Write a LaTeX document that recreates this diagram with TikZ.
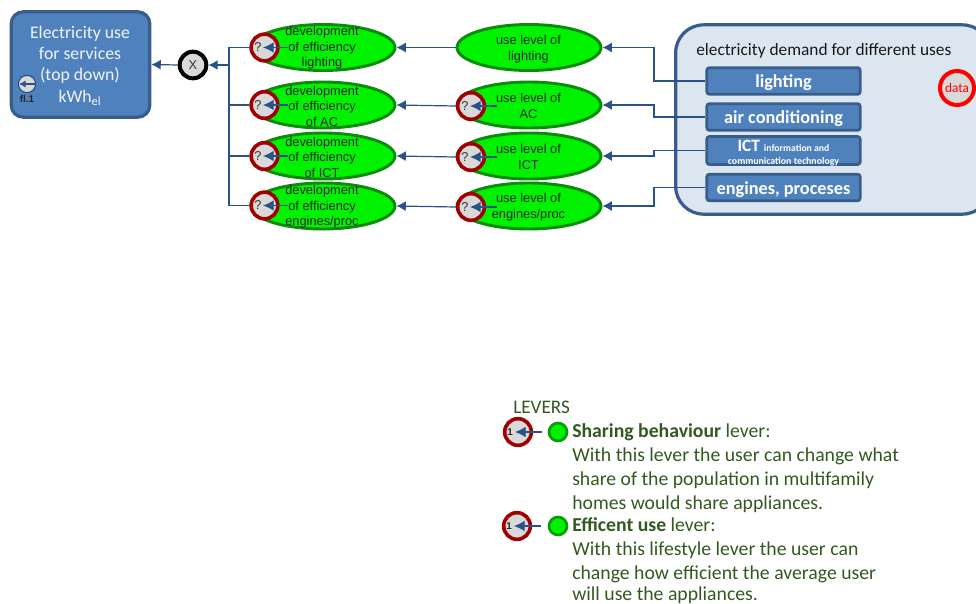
\documentclass[tikz,border=0pt]{standalone}
\usepackage{fontspec}
\setmainfont{Carlito}
\newfontfamily\arialw[WordSpace=1.9]{Liberation Sans}
\newfontfamily\arialn{Liberation Sans}
\usetikzlibrary{shapes.geometric,arrows.meta}
\definecolor{boxblue}{HTML}{4F81BD}
\definecolor{boxedge}{HTML}{385D8A}
\definecolor{linkblue}{HTML}{2A5288}
\definecolor{groupfill}{HTML}{DCE6F1}
\definecolor{leafgreen}{HTML}{00F200}
\definecolor{leafedge}{HTML}{0C8C0C}
\definecolor{darkred}{HTML}{A00000}
\definecolor{qgrey}{HTML}{D9D9D9}
\definecolor{legendgreen}{HTML}{33591F}
\tikzset{
  conn/.style={draw=linkblue,line width=0.9pt,-{Latex[length=7pt,width=7.5pt]}},
  innerconn/.style={draw=linkblue,line width=0.9pt,-{Latex[length=8pt,width=8pt]}},
  plainconn/.style={draw=linkblue,line width=0.9pt},
  leaf/.style={ellipse,draw=leafedge,fill=leafgreen,line width=2.2pt,minimum width=108pt,minimum height=34.5pt,inner sep=0pt},
  leaftext/.style={inner sep=0pt,align=center,font=\fontsize{9.6}{11.6}\arialw,text=black!85},
  qmark/.style={circle,draw=darkred,fill=qgrey,line width=2.7pt,minimum size=20pt,inner sep=0pt},
  qtext/.style={font=\fontsize{9.6}{11}\arialn,text=black!80,inner sep=0pt},
  usebox/.style={rectangle,rounded corners=2pt,draw=boxedge,fill=boxblue,line width=2.1pt,minimum width=115pt,minimum height=20pt,inner sep=0pt},
  usetext/.style={inner sep=0pt,text=white,font=\fontsize{13.7}{16}\selectfont\bfseries},
  legtext/.style={anchor=base west,inner sep=0pt,text=legendgreen,font=\fontsize{14.8}{18}\selectfont},
  legdot/.style={circle,draw=leafedge!85!leafgreen,fill=leafgreen,line width=2pt,minimum size=13.5pt,inner sep=0pt},
}
\begin{document}
\begin{tikzpicture}[x=0.75pt,y=-0.75pt]
\clip (0,0) rectangle (976,604);
\useasboundingbox (0,0) rectangle (976,604);

% top-left result box
\node[rectangle,rounded corners=9pt,draw=boxedge,fill=boxblue,line width=2.4pt,minimum width=104pt,minimum height=79pt,inner sep=0pt] (res) at (80.5,64.5) {};
\node[inner sep=0pt,text=white!92!boxblue,font=\fontsize{13.3}{16}\selectfont,align=center] (restxt) at (80,65.5) {Electricity use\\for services\\(top down)\\kWh\textsubscript{el}};
\node[circle,draw=linkblue,fill=qgrey,line width=0.9pt,minimum size=13pt,inner sep=0pt] (fl) at (27,84) {};
\coordinate (flr) at (35,84);
\coordinate (fll) at (19,84);
\draw[draw=linkblue,line width=0.95pt,-{Latex[length=5pt,width=5.5pt]}] (flr) -- (fll);
\node[inner sep=0pt,font=\fontsize{7.4}{8}\arialn\bfseries,text=black!85] (fltxt) at (27,99) {fl.1};

% group
\node[rectangle,rounded corners=21pt,draw=boxedge,fill=groupfill,line width=2.4pt,minimum width=236pt,minimum height=142pt,inner sep=0pt] (grp) at (833,119.5) {};
\node[anchor=base west,inner sep=0pt,font=\fontsize{13}{15}\selectfont,text=black!90] (grptxt) at (696,55.5) {electricity demand for different uses};
\node[usebox] (u1) at (783.5,81) {};
\node[usetext] (ut1) at (783.5,83) {lighting};
\node[usebox] (u2) at (783.5,117) {};
\node[usetext] (ut2) at (783.5,119) {air conditioning};
\node[usebox,minimum height=21pt] (u3) at (783.5,150.5) {};
\node[inner sep=0pt,text=white,font=\bfseries,anchor=center] (u3a) at (783.5,146) {\fontsize{13}{15}\selectfont ICT \fontsize{7.3}{9}\selectfont information and};
\node[inner sep=0pt,text=white,anchor=center] (u3b) at (783.5,162) {\fontsize{7.4}{9}\selectfont\bfseries communication technology};
\node[usebox] (u4) at (783.5,187.5) {};
\node[usetext] (ut4) at (783.5,189.5) {engines, proceses};
\node[circle,draw=red,fill=qgrey,line width=3pt,minimum size=25.5pt,inner sep=0pt,text=red,font=\fontsize{10}{12}\selectfont] (data) at (957,88) {data};

% left ellipses
\node[leaf] (a1) at (323,47.5) {};
\node[leaf] (a2) at (323,105) {};
\node[leaf] (a3) at (323,156) {};
\node[leaf] (a4) at (323,206) {};

% right ellipses
\node[leaf] (b1) at (529,47.5) {};
\node[leaf] (b2) at (529,105) {};
\node[leaf] (b3) at (529,156) {};
\node[leaf] (b4) at (529,206) {};

% X
\node[circle,draw=black,fill=qgrey,line width=3pt,minimum size=20pt,inner sep=0pt,font=\fontsize{9.6}{11}\arialn,text=black!80] (x) at (193,65) {X};
\coordinate (trunk) at (229,65);

% question circles, left column
\foreach \i/\y in {1/47.5,2/105,3/156,4/205.5}{
  \node[qmark] (qa\i) at (264.5,\y) {};
  \node[qtext] (qat\i) at (258,\y) {?};
  \coordinate (qas\i) at (288,\y);
  \coordinate (qae\i) at (263,\y);
  \draw[innerconn] (qas\i) -- (qae\i);
}
% question circles, right column
\foreach \i/\y in {2/106,3/157,4/207}{
  \node[qmark] (qb\i) at (471,\y) {};
  \node[qtext] (qbt\i) at (465,\y) {?};
  \coordinate (qbs\i) at (497,\y);
  \coordinate (qbe\i) at (470,\y);
  \draw[innerconn] (qbs\i) -- (qbe\i);
}

% ellipse texts
\node[leaftext] (at1) at (322,48) {development\\of efficiency\\lighting};
\node[leaftext] (at2) at (322,106) {development\\of efficiency\\of AC};
\node[leaftext] (at3) at (322,157) {development\\of efficiency\\of ICT};
\node[leaftext] (at4) at (322,207) {development\\of efficiency\\engines/proc};
\node[leaftext] (bt1) at (528.5,49) {use level of\\lighting};
\node[leaftext] (bt2) at (528.5,106) {use level of\\AC};
\node[leaftext] (bt3) at (528.5,157) {use level of\\ICT};
\node[leaftext] (bt4) at (528.5,207) {use level of\\engines/proc};

% connectors
\draw[conn] (x.west) -- (res.east);
\draw[plainconn] (qa1.west) -| (trunk);
\draw[plainconn] (qa2.west) -| (trunk);
\draw[plainconn] (qa3.west) -| (trunk);
\draw[plainconn] (qa4.west) -| (trunk);
\draw[conn,line width=1.4pt] (trunk) -- (x.east);

\draw[conn] (b1.west) -- (a1.east);
\draw[conn] (qb2.west) -- (a2.east);
\draw[conn] (qb3.west) -- (a3.east);
\draw[conn] (qb4.west) -- (a4.east);

\draw[conn] (u1.west) -| (654,47.5) -- (b1.east);
\draw[conn] (u2.west) -| (654,105) -- (b2.east);
\draw[conn] (u3.west) -| (654,156) -- (b3.east);
\draw[conn] (u4.west) -| (654,206) -- (b4.east);

% legend
\node[anchor=base west,inner sep=0pt,text=legendgreen,font=\fontsize{14.4}{17}\selectfont] (levers) at (513,413) {LEVERS};
\foreach \i/\xx/\y in {1/518/432,2/517/526}{
  \node[qmark] (lq\i) at (\xx,\y) {};
  \node[inner sep=0pt,font=\fontsize{7.4}{9}\arialn\bfseries,text=black!85] (lqt\i) at (\xx-8,\y) {1};
  \node[legdot] (ld\i) at (558,\y) {};
  \coordinate (ls\i) at (\xx+24,\y);
  \coordinate (le\i) at (\xx-3,\y);
  \draw[innerconn] (ls\i) -- (le\i);
}
\node[legtext] (t1) at (572,437) {\textbf{Sharing behaviour} lever:};
\node[legtext] (t2) at (572,461) {With this lever the user can change what};
\node[legtext] (t3) at (572,485) {share of the population in multifamily};
\node[legtext] (t4) at (572,509) {homes would share appliances.};
\node[legtext] (t5) at (572,531) {\textbf{Efficent use} lever:};
\node[legtext] (t6) at (572,555.5) {With this lifestyle lever the user can};
\node[legtext] (t7) at (572,579) {change how efficient the average user};
\node[legtext] (t8) at (572,600.5) {will use the appliances.};
\end{tikzpicture}
\end{document}
